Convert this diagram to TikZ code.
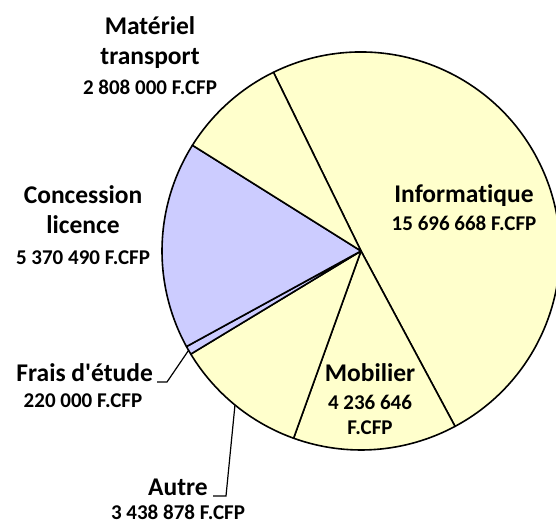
\documentclass[tikz,border=0pt]{standalone}
\usepackage{fontspec}
\setmainfont{Carlito}[Ligatures=NoCommon]
\usepackage{tikz}
\usetikzlibrary{positioning}
\definecolor{pieyellow}{HTML}{FFFFCC}
\definecolor{pielav}{HTML}{CCCCFF}

\begin{document}
\begin{tikzpicture}[x=1pt,y=1pt,
  slice/.style={draw=black,line width=1.6pt,line join=round},
  yel/.style={slice,fill=pieyellow},
  lav/.style={slice,fill=pielav},
  lbl/.style={font=\bfseries\fontsize{25.5}{30}\selectfont,align=center,inner sep=0pt,anchor=base},
  val/.style={font=\bfseries\fontsize{21}{25}\selectfont,align=center,inner sep=0pt,anchor=base},
  leader/.style={draw=black,line width=1.2pt}]
  \useasboundingbox (0,0) rectangle (556,524);
  \coordinate (c) at (361,273);
  \begin{scope}
  \clip (0,0) rectangle (556,524);
  \foreach \a/\b/\s in {116.1/-61.8/yel,-61.8/-109.8/yel,-109.8/-148.8/yel,
                        -148.8/-151.3/lav,-151.3/-212.1/lav,-212.1/-243.9/yel}
    \draw[\s] (c) -- ++(\a:199) arc[start angle=\a,end angle=\b,radius=199] -- cycle;
  \end{scope}
  \node[lbl] (info) at (464,321) {Informatique};
  \node[val] (infov) at ([yshift=-28pt]info.base) {15 696 668 F.CFP};
  \node[lbl] (mob) at (370,142) {Mobilier};
  \node[val] (mobv) at ([yshift=-53pt]mob.base) {4 236 646\\F.CFP};
  \node[lbl] (mat) at (150,459) {Matériel\\transport};
  \node[val] (matv) at ([yshift=-30pt]mat.base) {2 808 000 F.CFP};
  \node[lbl] (conc) at (83,290) {Concession\\licence};
  \node[val] (concv) at ([yshift=-31pt]conc.base) {5 370 490 F.CFP};
  \node[lbl,anchor=base east] (frais) at (153,142) {Frais d\textquotesingle étude};
  \node[val] (fraisv) at (83,116) {220 000 F.CFP};
  \node[lbl,anchor=base east] (autre) at (208,28) {Autre};
  \node[val] (autrev) at (178,5) {3 438 878 F.CFP};
  \coordinate (fraispt) at ([shift={(-150.05:199)}]c);
  \coordinate (autrept) at ([shift={(-129.3:199)}]c);
  \draw[leader] (frais.base east) ++(4,0) -- ++(10,0) -- (fraispt);
  \draw[leader] (autre.base east) ++(5,0) -- ++(13,0) -- (autrept);
\end{tikzpicture}
\end{document}
